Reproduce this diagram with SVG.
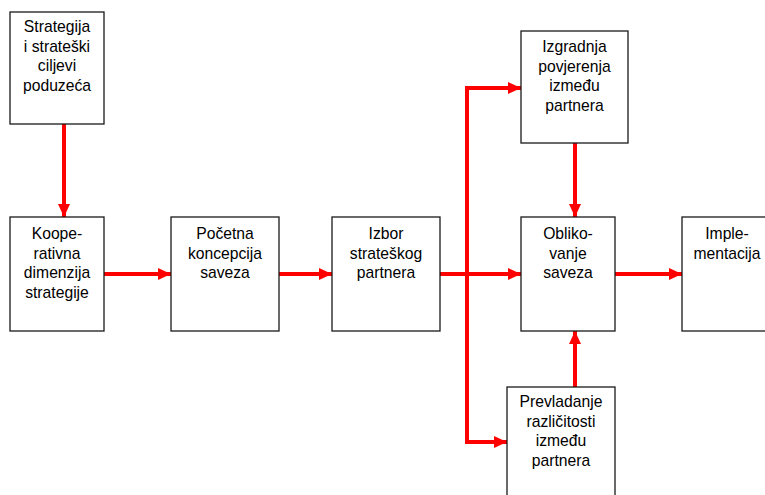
<svg xmlns="http://www.w3.org/2000/svg" width="765" height="495" viewBox="0 0 765 495">
  <style>
    .box { fill: #ffffff; stroke: #1a1a1a; stroke-width: 1.3; }
    .lbl { font-family: "Liberation Sans", Arial, sans-serif; font-size: 15.7px; fill: #000000; text-anchor: middle; }
    .wire { fill: none; stroke: #ff0000; stroke-width: 4; }
  </style>
  <defs>
    <marker id="head" viewBox="0 0 13 12" refX="13" refY="6" markerWidth="13" markerHeight="12" markerUnits="userSpaceOnUse" orient="auto">
      <path d="M0,0 L13,6 L0,12 Z" fill="#ff0000"/>
    </marker>
  </defs>
  <rect width="765" height="495" fill="#ffffff"/>

  <g id="connectors">
    <line class="wire" x1="64" y1="124" x2="64" y2="217" marker-end="url(#head)"/>
    <line class="wire" x1="104" y1="274" x2="171" y2="274" marker-end="url(#head)"/>
    <line class="wire" x1="279" y1="274" x2="332" y2="274" marker-end="url(#head)"/>
    <line class="wire" x1="440" y1="274" x2="521" y2="274" marker-end="url(#head)"/>
    <polyline class="wire" points="467,274 467,88 521,88" marker-end="url(#head)"/>
    <polyline class="wire" points="467,274 467,442 507,442" marker-end="url(#head)"/>
    <line class="wire" x1="575" y1="143" x2="575" y2="217" marker-end="url(#head)"/>
    <line class="wire" x1="575" y1="387" x2="575" y2="331" marker-end="url(#head)"/>
    <line class="wire" x1="615" y1="274" x2="682" y2="274" marker-end="url(#head)"/>
  </g>

  <g id="strategija">
    <rect class="box" x="10" y="12" width="94" height="112"/>
    <text class="lbl" x="57" y="32">Strategija</text>
    <text class="lbl" x="57" y="52">i strateški</text>
    <text class="lbl" x="57" y="71">ciljevi</text>
    <text class="lbl" x="57" y="91">poduzeća</text>
  </g>

  <g id="kooperativna">
    <rect class="box" x="10" y="217" width="94" height="114"/>
    <text class="lbl" x="57" y="239">Koope-</text>
    <text class="lbl" x="57" y="259">rativna</text>
    <text class="lbl" x="57" y="278">dimenzija</text>
    <text class="lbl" x="57" y="298">strategije</text>
  </g>

  <g id="pocetna">
    <rect class="box" x="171" y="217" width="108" height="114"/>
    <text class="lbl" x="225" y="239">Početna</text>
    <text class="lbl" x="225" y="259">koncepcija</text>
    <text class="lbl" x="225" y="278">saveza</text>
  </g>

  <g id="izbor">
    <rect class="box" x="332" y="217" width="108" height="114"/>
    <text class="lbl" x="386" y="239">Izbor</text>
    <text class="lbl" x="386" y="259">strateškog</text>
    <text class="lbl" x="386" y="278">partnera</text>
  </g>

  <g id="izgradnja">
    <rect class="box" x="521" y="31" width="107" height="112"/>
    <text class="lbl" x="574.5" y="52">Izgradnja</text>
    <text class="lbl" x="574.5" y="72">povjerenja</text>
    <text class="lbl" x="574.5" y="91">između</text>
    <text class="lbl" x="574.5" y="111">partnera</text>
  </g>

  <g id="oblikovanje">
    <rect class="box" x="521" y="217" width="94" height="114"/>
    <text class="lbl" x="568" y="239">Obliko-</text>
    <text class="lbl" x="568" y="259">vanje</text>
    <text class="lbl" x="568" y="278">saveza</text>
  </g>

  <g id="prevladanje">
    <rect class="box" x="507" y="387" width="108" height="120"/>
    <text class="lbl" x="561" y="407">Prevladanje</text>
    <text class="lbl" x="561" y="427">različitosti</text>
    <text class="lbl" x="561" y="446">između</text>
    <text class="lbl" x="561" y="466">partnera</text>
  </g>

  <g id="implementacija">
    <rect class="box" x="682" y="217" width="96" height="114"/>
    <text class="lbl" x="727" y="239">Imple-</text>
    <text class="lbl" x="727" y="259">mentacija</text>
  </g>
</svg>
